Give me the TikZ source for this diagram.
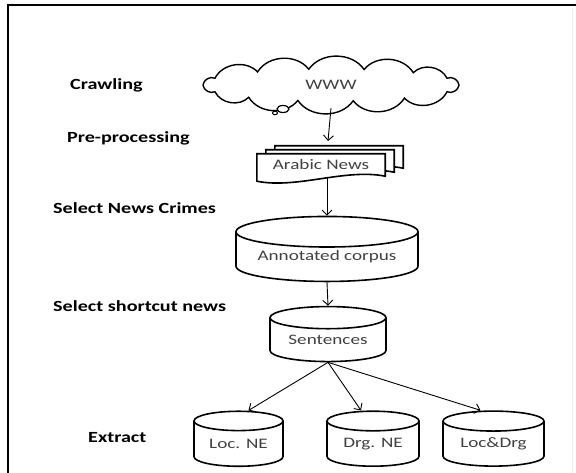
\documentclass[tikz,border=0pt]{standalone}
\usepackage{fontspec}
\setmainfont{Carlito}
\newfontfamily\stagefont[FakeStretch=1.3]{Carlito}
\newfontfamily\boxfont[FakeStretch=1.32]{Carlito}
\usetikzlibrary{calc,shapes.geometric,arrows.meta}

\tikzset{
  stage/.style={anchor=west, inner sep=0pt, font=\stagefont\bfseries\fontsize{15.5}{18}\selectfont},
  store/.style={cylinder, shape border rotate=90, draw, line width=1.6pt, aspect=0.3,
    inner sep=0pt, text=black!75, font=\boxfont\fontsize{14.5}{17}\selectfont},
  flow/.style={-{Straight Barb[length=5pt,width=10pt]}, line width=0.9pt},
  page/.style={draw, fill=white, line width=1.6pt},
}
\newcommand\newspage[1]{\draw[page] ($(news.north west)+#1$) -- ($(news.north east)+#1$) -- ($(news.south east)+#1$)
  .. controls +(-40,8) and +(40,-8) .. ($(news.south west)+(0,-5)+#1$) -- cycle;}

\begin{document}
\begin{tikzpicture}[x=1pt, y=1pt]
			%%%%% START %%%%%
			\useasboundingbox (0,0) rectangle (576,-473);
			
			\draw[line width=2.5pt] (8,-473) -- (8,-5) -- (576,-5);
			\draw[line width=1pt, color=black!8] (572,-8) -- (572,-473);
			
			\node[stage] (crawl) at (70,-85) {Crawling};
			\node[stage] (prep) at (67,-138) {Pre-processing};
			\node[stage] (selcrime) at (53,-208) {Select News Crimes};
			\node[stage] (selshort) at (53,-306) {Select shortcut news};
			\node[stage] (extract) at (88,-438) {Extract};
			
			% cloud
			\node[minimum width=277, minimum height=46, inner sep=0pt, text=black!75,
			  font=\boxfont\fontsize{14.5}{17}\selectfont] (www) at (331,-85) {WWW};
			\draw[line width=1.4pt] ($(www)+(-128,0)$)
			  \foreach \a in {155,125,100,75,50,25,0,-25,-55,-80,-105,-130,-155,-180} {
			    to[bend left=55] ($(www)+({128*cos(\a)},{16*sin(\a)})$) };
			\draw[line width=1.2pt, fill=white] (283,-109) ellipse (6 and 3.5);
			\draw[line width=1pt, fill=white] (275,-113) ellipse (2.5 and 1.8);
			
			\node[minimum width=128, minimum height=22, inner sep=0pt] (news) at (321,-165) {};
			\coordinate (newsin) at (328,-141);
			
			\node[store, aspect=0.22, minimum width=182, minimum height=65] (anno) at (327,-257) {Annotated corpus};
			\node[store, aspect=0.28, minimum width=116, minimum height=55] (sent) at (328,-340) {Sentences};
			\node[store, aspect=0.33, minimum width=89, minimum height=55] (loc) at (238.5,-444) {Loc. NE};
			\node[store, aspect=0.33, minimum width=92, minimum height=55] (drg) at (373,-444) {Drg. NE};
			\node[store, aspect=0.3, minimum width=101, minimum height=55] (both) at (493.5,-444) {Loc\&Drg};
			
			\draw[flow] (www.south) -- (newsin);
			\draw[flow] (news.south -| anno.north) -- (anno.north);
			\draw[flow] (anno.south) -- (sent.north);
			\draw[flow] (sent.south) -- ([xshift=10]loc.north);
			\draw[flow] (sent.south) -- ([xshift=-12]drg.north);
			\draw[flow] (sent.south) -- ([xshift=-13]both.north);
			
			% stacked pages, back to front
			\newspage{(18,8)}
			\newspage{(9,4)}
			\newspage{(0,0)}
			\node[text=black!75, font=\boxfont\fontsize{14.5}{17}\selectfont] (newstext) at (news) {Arabic News};
			
			%%%%% END %%%%%
\end{tikzpicture}
\end{document}
